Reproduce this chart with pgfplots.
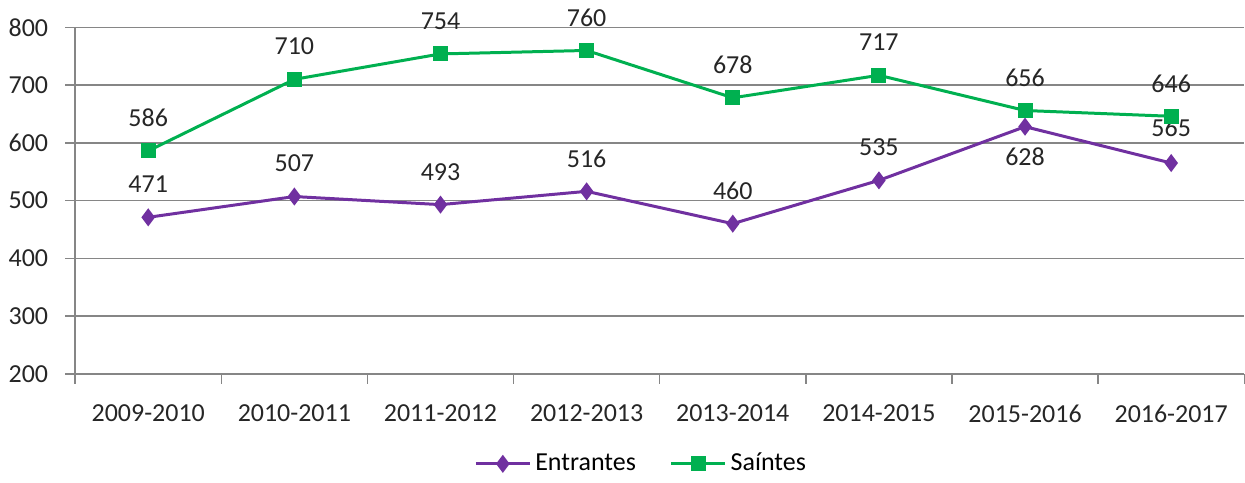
\documentclass[border=0pt]{standalone}
\usepackage{fontspec}
\setmainfont{Carlito}
\usepackage{pgfplots}
\usepackage{pgfplotstable}
\pgfplotsset{compat=1.18}
\definecolor{ent}{RGB}{112,48,160}
\definecolor{sai}{RGB}{0,176,80}
\definecolor{axgray}{RGB}{134,134,134}
\pgfplotstableread{
x y dy
0 471 16.5
1 507 16.5
2 493 16.5
3 516 16.5
4 460 16.5
5 535 16.5
6 628 -15
7 565 17.5
}\enttable
\pgfplotstableread{
x y dy
0 586 16.5
1 710 16.5
2 754 16.5
3 760 16.5
4 678 16.5
5 717 16.5
6 656 16.5
7 646 16.5
}\saitable
\begin{document}
\fontsize{13}{15}\selectfont
\begin{tikzpicture}
\begin{axis}[
  scale only axis, width=585.5pt, height=173.5pt,
  xmin=-0.5, xmax=7.5, ymin=200, ymax=800,
  ytick={200,300,...,800},
  xtick={0,...,7},
  xticklabels={2009-2010,2010-2011,2011-2012,2012-2013,2013-2014,2014-2015,2015-2016,2016-2017},
  minor xtick={-0.5,0.5,...,7.5},
  axis lines*=left,
  axis line style={axgray, line width=0.75pt, -},
  tick align=outside,
  major x tick style={draw=none},
  minor x tick style={axgray, line width=0.75pt},
  ytick style={axgray, line width=0.75pt},
  major tick length=5pt, minor tick length=5pt,
  ymajorgrids, grid style={axgray, line width=0.75pt},
  /pgf/number format/assume math mode=true,
  ticklabel style={font=\fontsize{13}{15}\selectfont, text=black!85},
  xticklabel style={yshift=-6pt},
  yticklabel style={xshift=-4pt},
  legend style={at={(0.485,-0.26)}, anchor=center, legend columns=2, draw=none,
    font=\fontsize{13}{15}\selectfont,
    /tikz/every even column/.append style={column sep=15pt}},
  legend image code/.code={\draw[mark repeat=2,mark phase=2] plot coordinates {(0pt,0pt) (13.5pt,0pt) (27pt,0pt)};},
  nodes near coords,
  visualization depends on={\thisrow{dy} \as \dy},
  every node near coord/.append style={anchor=center, yshift=\dy pt, font=\fontsize{13}{15}\selectfont, text=black!85},
]
\addplot[ent, line width=1.5pt, mark=diamond*, mark size=3.3pt, mark options={solid}] table[x=x,y=y] {\enttable};
\addlegendentry{Entrantes}
\addplot[sai, line width=1.5pt, mark=square*, mark size=3pt, mark options={solid}] table[x=x,y=y] {\saitable};
\addlegendentry{Saíntes}
\end{axis}
\end{tikzpicture}
\end{document}
